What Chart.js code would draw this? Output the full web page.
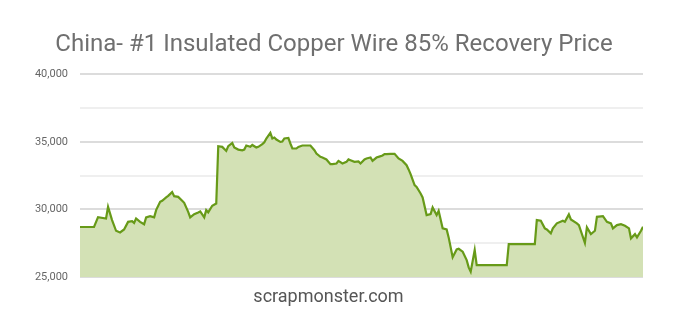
<!DOCTYPE html>
<html>
<head>
<meta charset="utf-8">
<script src="https://cdn.jsdelivr.net/npm/chart.js@4.4.1/dist/chart.umd.min.js"></script>
<style>
  html, body { margin: 0; padding: 0; background: #fff; }
  #wrap { width: 677px; height: 316px; position: relative; }
</style>
</head>
<body>
<div id="wrap"><canvas id="priceChart"></canvas></div>
<script>
// trading day index along the x axis
const days = [
    0, 7, 9, 13, 14, 16, 18, 20, 22, 24, 26, 27, 28, 30, 32, 33, 35, 37, 38, 40,
    41, 43, 44, 46, 47, 49, 51, 52, 54, 55, 57, 59, 60, 62, 63, 64, 66, 68, 69, 71,
    73, 74, 76, 77, 79, 81, 82, 83, 85, 86, 88, 89, 91, 92, 93, 95, 96, 97, 98, 100,
    101, 102, 104, 105, 106, 108, 109, 111, 113, 115, 117, 118, 120, 121, 123, 125, 126, 128, 129, 131,
    133, 134, 135, 137, 139, 140, 142, 143, 145, 146, 148, 149, 151, 152, 153, 155, 157, 159, 161, 163,
    164, 165, 167, 168, 170, 171, 173, 175, 176, 178, 179, 181, 183, 184, 186, 188, 189, 191, 193, 194,
    195, 197, 198, 213, 214, 227, 228, 230, 232, 233, 235, 236, 238, 241, 242, 244, 245, 248, 249, 252,
    253, 255, 257, 258, 261, 263, 265, 266, 268, 270, 272, 274, 275, 277, 278, 280, 281
];

// price (USD/MT)
const prices = [
    28700, 28700, 29430, 29330, 30190, 29210, 28420, 28300, 28520, 29080, 29130, 29000, 29330, 29080, 28900, 29410, 29500, 29410, 29950, 30560,
    30640, 30890, 31000, 31280, 30980, 30930, 30640, 30490, 29820, 29410, 29650, 29780, 29850, 29410, 29950, 29780, 30270, 30440, 34680, 34630,
    34330, 34680, 34920, 34580, 34430, 34380, 34430, 34730, 34630, 34770, 34580, 34630, 34830, 34970, 35250, 35660, 35250, 35320, 35170, 35000,
    35030, 35250, 35290, 34880, 34510, 34510, 34630, 34730, 34730, 34730, 34380, 34140, 33890, 33840, 33700, 33350, 33350, 33400, 33590, 33400,
    33520, 33700, 33640, 33520, 33550, 33400, 33700, 33770, 33840, 33590, 33840, 33890, 33990, 34090, 34090, 34110, 34110, 33770, 33590, 33270,
    32960, 32610, 31800, 31670, 31180, 30890, 29580, 29650, 30150, 29580, 29900, 28600, 28520, 27930, 26470, 27040, 27090, 26870, 26250, 25710,
    25390, 26990, 25880, 25880, 27440, 27440, 29210, 29160, 28600, 28520, 28230, 28600, 28970, 29160, 29080, 29630, 29260, 28970, 28840, 27530,
    28670, 28170, 28420, 29450, 29500, 29080, 28970, 28600, 28840, 28910, 28790, 28600, 27860, 28170, 27930, 28420, 28710
];

const yMin = 25000;
const yMax = 40000;
const yStep = 2500;

const sourceText = 'scrapmonster.com';

const colors = {
    line: '#679a18',
    fill: '#d3e1b5',
    gridMajor: '#dcdcdc',
    gridMinor: '#efefef',
    tick: '#666666',
    title: '#6f6f6f',
    source: '#555555'
};

const points = days.map((d, i) => ({ x: d, y: prices[i] }));

// source text under the plot, centred a little left of the page centre
const sourcePlugin = {
    id: 'sourceText',
    afterDraw(chart) {
        const c = chart.ctx;
        c.save();
        c.font = 'normal 18px Roboto';
        c.fillStyle = colors.source;
        c.textAlign = 'center';
        c.textBaseline = 'middle';
        c.fillText(sourceText, chart.width / 2 - 10, chart.chartArea.bottom + 20);
        c.restore();
    }
};

const ctx = document.getElementById('priceChart').getContext('2d');
new Chart(ctx, {
    type: 'line',
    data: {
        datasets: [{
            data: points,
            borderColor: colors.line,
            backgroundColor: colors.fill,
            borderWidth: 2.2,
            fill: 'start',
            tension: 0,
            pointRadius: 0
        }]
    },
    options: {
        responsive: true,
        maintainAspectRatio: false,
        animation: false,
        layout: { padding: { left: 0, right: 9, top: 0, bottom: 39 } },
        plugins: {
            legend: { display: false },
            tooltip: { enabled: false },
            title: {
                display: true,
                text: 'China- #1 Insulated Copper Wire 85% Recovery Price',
                color: colors.title,
                font: { family: 'Roboto', size: 24, weight: 'normal' },
                padding: { top: 31, bottom: 14.5 }
            }
        },
        scales: {
            x: {
                type: 'linear',
                min: days[0],
                max: days[days.length - 1],
                display: false
            },
            y: {
                min: yMin,
                max: yMax,
                afterFit: scale => { scale.width = 80; },
                border: { display: false },
                grid: {
                    drawTicks: false,
                    lineWidth: 2,
                    color: c => (c.tick && c.tick.value % 5000 === 0) ? colors.gridMajor : colors.gridMinor
                },
                ticks: {
                    stepSize: yStep,
                    padding: 12,
                    color: colors.tick,
                    font: { family: 'Roboto', size: 11 },
                    callback: v => (v % 5000 === 0) ? v.toLocaleString('en-US') : ''
                }
            },
            // empty right-hand axis, only keeps the plot off the right edge
            yRight: {
                position: 'right',
                min: yMin,
                max: yMax,
                afterFit: scale => { scale.width = 25; },
                border: { display: false },
                grid: { display: false },
                ticks: { display: false }
            }
        }
    },
    plugins: [sourcePlugin]
});
</script>
</body>
</html>
